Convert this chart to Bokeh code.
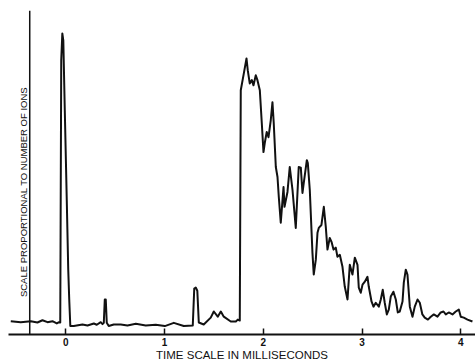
import math
from bokeh.plotting import figure
from bokeh.models import Range1d, FixedTicker, Span, Label
from bokeh.embed import file_html
from bokeh.resources import INLINE

# time in milliseconds
t_ms = [
    -0.557, -0.456, -0.354, -0.287, -0.236, -0.185, -0.135, -0.091, -0.068, -0.056,
    -0.046, -0.035, -0.025, -0.010, 0.010, 0.025, 0.035, 0.046,
    0.081, 0.169, 0.220, 0.284, 0.314, 0.354, 0.372, 0.385, 0.395, 0.405, 0.415, 0.435,
    0.486, 0.557, 0.625, 0.709, 0.810, 0.911, 1.003, 1.094, 1.195, 1.286, 1.301, 1.316,
    1.332, 1.347, 1.397, 1.468, 1.499, 1.539, 1.570, 1.600, 1.671, 1.722, 1.742, 1.762,
    1.772, 1.803, 1.830, 1.843, 1.863, 1.884, 1.901, 1.924, 1.941, 1.965, 1.985, 2.002,
    2.015, 2.035, 2.053, 2.076, 2.093, 2.106, 2.127, 2.144, 2.157, 2.177, 2.205, 2.215,
    2.245, 2.268, 2.296, 2.329, 2.359, 2.380, 2.397, 2.410, 2.441, 2.451, 2.471, 2.498,
    2.511, 2.532, 2.549, 2.562, 2.589, 2.613, 2.633, 2.650, 2.673, 2.691, 2.711, 2.734,
    2.751, 2.775, 2.802, 2.825, 2.853, 2.876, 2.903, 2.927, 2.954, 2.967, 2.987, 3.005,
    3.028, 3.055, 3.068, 3.096, 3.116, 3.139, 3.170, 3.190, 3.210, 3.230, 3.251, 3.271,
    3.291, 3.318, 3.342, 3.362, 3.382, 3.410, 3.423, 3.443, 3.460, 3.484, 3.511, 3.534,
    3.562, 3.585, 3.611, 3.635, 3.667, 3.696, 3.727, 3.764, 3.797, 3.825, 3.848, 3.878,
    3.916, 3.949, 3.980, 4.000, 4.030, 4.068, 4.118,
]

# signal, scale proportional to number of ions (arbitrary units)
ions = [
    4.1, 3.8, 4.1, 3.7, 4.4, 3.8, 4.1, 3.4, 3.8, 3.7,
    84.6, 92.9, 90.8, 69.2, 41.5, 20.0, 10.8, 2.6,
    2.6, 3.1, 2.8, 3.4, 3.0, 3.8, 3.2, 3.6, 10.8, 10.8, 3.6, 2.6,
    3.1, 3.1, 2.8, 3.3, 2.8, 3.0, 2.6, 3.6, 2.6, 2.8, 14.2, 14.5,
    13.5, 3.7, 3.1, 5.2, 7.1, 5.5, 7.1, 5.5, 4.0, 4.0, 4.6, 4.3,
    75.4, 80.6, 85.2, 81.5, 77.5, 78.5, 76.9, 80.0, 78.5, 75.4, 65.2, 56.3,
    59.1, 62.5, 60.9, 66.2, 71.7, 65.2, 51.7, 48.6, 42.5, 34.5, 45.5, 39.4,
    44.0, 51.7, 44.6, 32.9, 51.7, 51.5, 43.7, 46.8, 53.8, 52.9, 44.6, 25.2,
    18.5, 23.1, 31.4, 32.9, 33.8, 39.4, 33.2, 26.2, 29.8, 28.6, 26.2, 26.8,
    24.0, 24.6, 20.9, 14.8, 10.8, 21.5, 18.5, 23.7, 21.5, 14.5, 12.9, 15.4,
    16.3, 17.8, 14.8, 10.2, 8.6, 9.8, 8.6, 10.8, 13.8, 9.8, 6.2, 7.7,
    11.7, 13.2, 10.8, 6.8, 7.1, 10.2, 16.0, 20.0, 18.5, 8.6, 5.5, 8.6,
    10.8, 9.8, 6.2, 5.2, 4.6, 5.5, 6.2, 5.5, 6.8, 7.1, 6.2, 6.8,
    6.2, 7.1, 7.7, 5.5, 5.2, 4.6, 4.0,
]

x_ticks = [0, 1, 2, 3, 4]
y_axis_at = -0.365
x_title = "TIME SCALE IN MILLISECONDS"
y_title = "SCALE PROPORTIONAL TO NUMBER OF IONS"

FONT = "Liberation Sans"

p = figure(width=475, height=363, output_backend="svg", toolbar_location=None,
           x_range=Range1d(-0.58, 4.149), y_range=Range1d(0, 100),
           min_border_left=8, min_border_right=0, min_border_top=10, min_border_bottom=28)
p.outline_line_color = None
p.xgrid.visible = False
p.ygrid.visible = False
p.yaxis.visible = False
p.background_fill_color = "white"

p.line(t_ms, ions, line_width=2, line_color="#111111", line_join="round")

xa = p.xaxis[0]
xa.ticker = FixedTicker(ticks=x_ticks)
xa.minor_tick_line_color = None
xa.major_tick_in = 6
xa.major_tick_out = 0
xa.major_tick_line_width = 1.5
xa.major_tick_line_color = "#111111"
xa.axis_line_width = 2
xa.axis_line_color = "#111111"
xa.major_label_text_font = FONT
xa.major_label_text_font_size = "10px"
xa.major_label_text_font_style = "bold"
xa.major_label_text_color = "#111111"
xa.major_label_standoff = 3
xa.axis_label = x_title
xa.axis_label_text_font = FONT
xa.axis_label_text_font_size = "11.5px"
xa.axis_label_text_font_style = "normal"
xa.axis_label_text_color = "#111111"
xa.axis_label_standoff = 0

p.add_layout(Span(location=y_axis_at, dimension="height",
                  line_color="#111111", line_width=1.5))
p.add_layout(Label(x=y_axis_at, y=44, x_offset=-6, text=y_title, angle=math.pi / 2,
                   text_align="center", text_baseline="middle",
                   text_font=FONT, text_font_size="9.5px", text_color="#111111"))

open("out.html", "w").write(file_html(p, INLINE))
